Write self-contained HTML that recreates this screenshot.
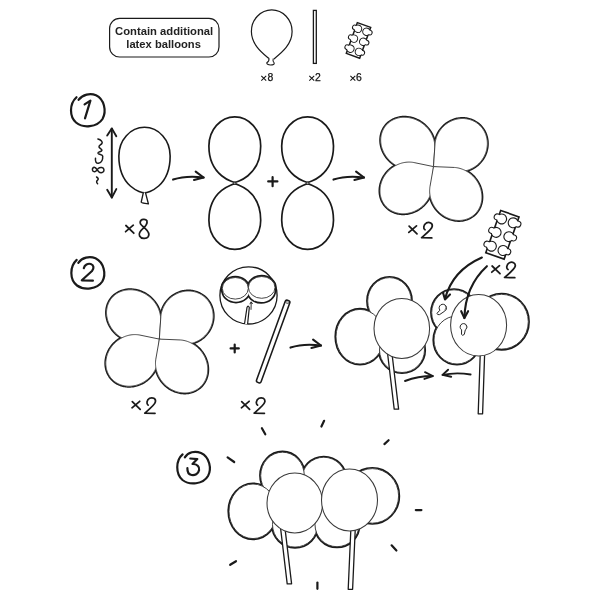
<!DOCTYPE html><html><head><meta charset="utf-8"><style>html,body{margin:0;padding:0;background:#fff;}svg{display:block;} text{will-change:transform;}</style></head><body><svg width="600" height="600" viewBox="0 0 600 600">
<rect width="600" height="600" fill="#fff"/>
<rect x="109.6" y="18.4" width="109.4" height="38.6" rx="10" ry="10" fill="#fff" stroke="#1a1a1a" stroke-width="1.2"/>
<text x="115.0" y="35.1" textLength="98.2" lengthAdjust="spacingAndGlyphs" font-family="Liberation Sans" font-weight="bold" font-size="10.6" fill="#222">Contain additional</text>
<text x="126.3" y="47.5" textLength="74.6" lengthAdjust="spacingAndGlyphs" font-family="Liberation Sans" font-weight="bold" font-size="10.6" fill="#222">latex balloons</text>
<path d="M269.4,59 C263,53.5 251.4,45 251.4,31.5 A20.35,21.6 0 0 1 292.1,31.5 C292.1,45 280.5,53.5 273.8,59" fill="#fff" stroke="#1a1a1a" stroke-width="1.2"/>
<path d="M268.9,58.6 Q269.5,61 266.8,62.8 Q266.6,64.8 270.6,65 Q274.5,64.8 274.2,63 Q272.4,61 273.2,58.6" fill="#fff" stroke="#1a1a1a" stroke-width="1.1"/>
<rect x="313.4" y="10.4" width="2.9" height="53" fill="#fff" stroke="#1a1a1a" stroke-width="1.3"/>
<g transform="translate(358.5,40.4) rotate(19.7) scale(0.73)"><rect x="-9.7" y="-22.4" width="19.4" height="44.8" fill="#fff" stroke="#1a1a1a" stroke-width="2.05"/><g fill="#fff" stroke="#1a1a1a" stroke-width="2.74"><circle cx="-6" cy="-14.7" r="4.4"/><circle cx="-10.8" cy="-15.1" r="2.5"/><circle cx="6.2" cy="-14.9" r="4.4"/><circle cx="11" cy="-15.3" r="2.5"/><circle cx="-6.7" cy="-0.2" r="4.4"/><circle cx="-11.5" cy="-0.6" r="2.5"/><circle cx="6.7" cy="-0.4" r="4.4"/><circle cx="11.5" cy="-0.8" r="2.5"/><circle cx="-6.6" cy="14.4" r="4.4"/><circle cx="-11.4" cy="14" r="2.5"/><circle cx="5.8" cy="14.6" r="4.4"/><circle cx="10.6" cy="14.2" r="2.5"/></g><g fill="#fff"><circle cx="-6" cy="-14.7" r="4.4"/><circle cx="-10.8" cy="-15.1" r="2.5"/><circle cx="6.2" cy="-14.9" r="4.4"/><circle cx="11" cy="-15.3" r="2.5"/><circle cx="-6.7" cy="-0.2" r="4.4"/><circle cx="-11.5" cy="-0.6" r="2.5"/><circle cx="6.7" cy="-0.4" r="4.4"/><circle cx="11.5" cy="-0.8" r="2.5"/><circle cx="-6.6" cy="14.4" r="4.4"/><circle cx="-11.4" cy="14" r="2.5"/><circle cx="5.8" cy="14.6" r="4.4"/><circle cx="10.6" cy="14.2" r="2.5"/></g></g>
<path d="M261.3,75.9 L266.2,80.6 M266.2,75.9 L261.3,80.6" stroke="#111" stroke-width="1.05" fill="none"/><text x="267.6" y="80.9" font-family="Liberation Sans" font-size="10.4" fill="#111" stroke="#111" stroke-width="0.25">8</text>
<path d="M309.3,75.9 L314.2,80.6 M314.2,75.9 L309.3,80.6" stroke="#111" stroke-width="1.05" fill="none"/><text x="315" y="80.9" font-family="Liberation Sans" font-size="10.4" fill="#111" stroke="#111" stroke-width="0.25">2</text>
<path d="M350.4,75.9 L355.3,80.6 M355.3,75.9 L350.4,80.6" stroke="#111" stroke-width="1.05" fill="none"/><text x="356.1" y="80.9" font-family="Liberation Sans" font-size="10.4" fill="#111" stroke="#111" stroke-width="0.25">6</text>
<g fill="none" stroke="#1a1a1a" stroke-width="2.2" stroke-linecap="round" stroke-linejoin="round">
<path d="M76.5,97.2 C69,104 69.5,117 76,122.5 C83,128.5 97,127.5 102.5,119 C107,111 104,99 96,95.3 C90,92.8 83,94.5 78.6,99.8"/>
<path d="M84.6,104.4 L90.4,100.6 L85,118.4"/>
<path d="M76.7,259.9 C69.5,266.5 69.5,280 77,285.5 C84,290.5 97,289.5 102.3,281.5 C106.5,274 104,262.5 95.5,258.3 C89.5,255.8 82,257.5 78.3,262.8"/>
<path d="M83.8,268.2 C84.5,264.5 88,263.2 90.8,264 C94,265 94.2,268.5 92,271 L81.8,280.3 L92.9,280.6"/>
<path d="M182.6,454.4 C175.5,460.5 175.5,474 182.5,480 C189.5,485.5 203,484.5 208,476 C212,468.5 209.5,457 201,453 C195,450.5 188,452 184.8,457.4"/>
<path d="M190.3,458.5 L197.3,459.1 L192.5,464 C197,463.8 199.8,467 199.1,470 C198.4,474 194.6,475.6 191.6,475 C188.5,474.4 187.3,471 187.4,468.2"/>
</g>
<g fill="none" stroke="#1a1a1a" stroke-width="1.9" stroke-linecap="round" stroke-linejoin="round">
<path d="M111.8,128.6 L111.8,197.4"/><path d="M107.2,135.6 L111.8,128.4 L116.3,136.2"/><path d="M107.2,189.8 L111.8,197.6 L116.3,189.1"/>
</g>
<g fill="none" stroke="#1a1a1a" stroke-width="1.5" stroke-linecap="round" stroke-linejoin="round">
<g transform="translate(103,184) rotate(-90)"><path d="M0.3,-5.4 C1.5,-6.8 2.8,-6.6 3.8,-5.4 C4.8,-4.2 6,-4.8 7,-6.4"/><path d="M16.5,-9.5 C15.5,-11.2 12.3,-11 12.2,-8.6 C12.1,-6.8 14.3,-6.2 15.5,-4.8 C17.3,-2.8 16.8,0.9 14,1 C11.2,1.1 10.6,-2.4 12.3,-4.3 C13.5,-5.6 16.6,-6.8 16.8,-8.8"/></g>
<path d="M97.9,139 C101,139.8 103,141.8 101.9,143.5 C101,145 98.5,145.5 99,147 C99.5,148.5 102.5,149 101.9,150.5 C101.3,152 97.5,151.5 98,153.3 C98.5,154.8 102.6,154.2 102.7,156 C102.9,159 101.8,162.8 98.4,163.3 C96.3,163.5 95,161.6 95.5,158.2"/>
</g>
<path d="M118.85,156 A25.65,28.7 0 0 1 170.15,156 C170.15,187 148,192.8 144.5,192.8 C141,192.8 118.85,187 118.85,156Z" fill="#fff" stroke="#1a1a1a" stroke-width="1.6"/>
<path d="M143.4,192.4 L141.2,202.2 Q141.4,203 145,203.4 L148.4,203.8 L145.4,192.4" fill="#fff" stroke="#1a1a1a" stroke-width="1.35" stroke-linejoin="round"/>
<g transform="translate(173.1,179.6)" fill="none" stroke="#1a1a1a" stroke-width="2.1" stroke-linecap="round" stroke-linejoin="round"><path d="M0,0 Q13,-4.4 30.5,-2.1"/><path d="M22.6,-7.9 L30.5,-2.1 L20.9,0.4"/></g>
<g transform="translate(333.5,179.6)" fill="none" stroke="#1a1a1a" stroke-width="2.1" stroke-linecap="round" stroke-linejoin="round"><path d="M0,0 Q13,-4.4 30.5,-2.1"/><path d="M22.6,-7.9 L30.5,-2.1 L20.9,0.4"/></g>
<path d="M208.9,146 A25.9,29.2 0 0 1 260.7,146 C260.7,176.9 235.25,182.3 234.8,182.3 C234.35,182.3 208.9,176.9 208.9,146Z" fill="#fff" stroke="#1a1a1a" stroke-width="1.7"/>
<path d="M208.9,220.2 A25.9,-29.2 0 0 0 260.7,220.2 C260.7,189.3 235.25,183.9 234.8,183.9 C234.35,183.9 208.9,189.3 208.9,220.2Z" fill="#fff" stroke="#1a1a1a" stroke-width="1.7"/>
<ellipse cx="234.8" cy="183.1" rx="1.6" ry="0.9" fill="#fff" stroke="#1a1a1a" stroke-width="0.9"/>
<path d="M281.7,146 A25.9,29.2 0 0 1 333.5,146 C333.5,176.9 308.05,182.3 307.6,182.3 C307.15,182.3 281.7,176.9 281.7,146Z" fill="#fff" stroke="#1a1a1a" stroke-width="1.7"/>
<path d="M281.7,220.2 A25.9,-29.2 0 0 0 333.5,220.2 C333.5,189.3 308.05,183.9 307.6,183.9 C307.15,183.9 281.7,189.3 281.7,220.2Z" fill="#fff" stroke="#1a1a1a" stroke-width="1.7"/>
<ellipse cx="307.6" cy="183.1" rx="1.6" ry="0.9" fill="#fff" stroke="#1a1a1a" stroke-width="0.9"/>
<path d="M272.6,177.2 V186.2 M268.2,181.4 H277.4" stroke="#1a1a1a" stroke-width="2.2" stroke-linecap="round" fill="none"/>
<path d="M433.5,166.6 L415.11,169.39 L414.19,169.51 L413.27,169.6 L412.34,169.66 L411.41,169.68 L410.47,169.67 L409.53,169.63 L408.58,169.56 L407.64,169.46 L406.69,169.32 L405.75,169.16 L404.81,168.96 L403.87,168.73 L402.94,168.47 L402.01,168.18 L401.09,167.86 L400.18,167.51 L399.28,167.13 L398.38,166.72 L397.5,166.29 L396.63,165.82 L395.78,165.33 L394.94,164.81 L394.11,164.27 L393.31,163.7 L392.51,163.1 L391.74,162.49 L390.99,161.84 L390.26,161.18 L389.55,160.49 L388.86,159.79 L388.19,159.06 L387.55,158.32 L386.93,157.55 L386.34,156.77 L385.78,155.98 L385.24,155.17 L384.73,154.34 L384.24,153.5 L383.79,152.65 L383.36,151.79 L382.97,150.91 L382.6,150.03 L382.27,149.14 L381.96,148.25 L381.69,147.34 L381.45,146.44 L381.24,145.53 L381.06,144.61 L380.92,143.7 L380.81,142.78 L380.73,141.87 L380.68,140.95 L380.67,140.05 L380.69,139.14 L380.74,138.24 L380.83,137.35 L380.95,136.46 L381.1,135.58 L381.29,134.72 L381.5,133.86 L381.75,133.01 L382.03,132.18 L382.34,131.36 L382.69,130.56 L383.06,129.77 L383.46,129 L383.89,128.24 L384.36,127.51 L384.85,126.79 L385.36,126.09 L385.91,125.42 L386.48,124.77 L387.08,124.14 L387.7,123.53 L388.35,122.95 L389.02,122.39 L389.72,121.86 L390.43,121.35 L391.17,120.87 L391.93,120.42 L392.7,120 L393.5,119.61 L394.31,119.24 L395.14,118.91 L395.98,118.6 L396.84,118.32 L397.71,118.08 L398.6,117.87 L399.49,117.68 L400.4,117.53 L401.31,117.41 L402.23,117.32 L403.16,117.27 L404.1,117.24 L405.03,117.25 L405.98,117.29 L406.92,117.36 L407.87,117.47 L408.81,117.6 L409.75,117.77 L410.7,117.97 L411.63,118.19 L412.57,118.45 L413.49,118.74 L414.41,119.07 L415.33,119.42 L416.23,119.79 L417.12,120.2 L418,120.64 L418.87,121.1 L419.73,121.6 L420.57,122.11 L421.39,122.66 L422.2,123.23 L422.99,123.82 L423.76,124.44 L424.52,125.08 L425.25,125.74 L425.96,126.43 L426.65,127.14 L427.31,127.86 L427.95,128.61 L428.57,129.37 L429.16,130.15 L429.73,130.95 L430.27,131.76 L430.78,132.58 L431.26,133.42 L431.72,134.27 L432.14,135.14 L432.54,136.01 L432.9,136.89 L433.24,137.78 L433.54,138.68 L433.82,139.58 L434.06,140.49 L434.27,141.4 L434.44,142.31 L434.59,143.23 L434.7,144.14 L434.78,145.06 L434.82,145.97 L434.83,146.88 L434.81,147.78Z" fill="#fff" stroke="#1a1a1a" stroke-width="2.9"/>
<path d="M433.5,166.6 L435,143.92 L435.1,142.99 L435.24,142.07 L435.4,141.16 L435.6,140.24 L435.83,139.34 L436.08,138.44 L436.37,137.54 L436.69,136.66 L437.04,135.79 L437.42,134.93 L437.83,134.08 L438.26,133.24 L438.73,132.42 L439.22,131.61 L439.73,130.82 L440.28,130.05 L440.85,129.3 L441.44,128.56 L442.06,127.85 L442.7,127.15 L443.36,126.48 L444.05,125.83 L444.75,125.2 L445.48,124.6 L446.22,124.02 L446.99,123.47 L447.77,122.94 L448.56,122.44 L449.37,121.97 L450.2,121.53 L451.04,121.11 L451.89,120.73 L452.75,120.37 L453.63,120.04 L454.51,119.75 L455.4,119.48 L456.3,119.25 L457.2,119.04 L458.11,118.87 L459.02,118.73 L459.93,118.62 L460.85,118.55 L461.76,118.51 L462.68,118.5 L463.59,118.52 L464.5,118.57 L465.41,118.66 L466.31,118.77 L467.2,118.92 L468.09,119.11 L468.97,119.32 L469.84,119.56 L470.7,119.84 L471.54,120.14 L472.38,120.48 L473.2,120.85 L474,121.24 L474.79,121.67 L475.57,122.12 L476.32,122.6 L477.06,123.11 L477.78,123.64 L478.48,124.2 L479.15,124.79 L479.81,125.4 L480.44,126.04 L481.05,126.69 L481.63,127.37 L482.19,128.07 L482.72,128.8 L483.23,129.54 L483.71,130.3 L484.16,131.08 L484.59,131.87 L484.98,132.68 L485.35,133.51 L485.69,134.35 L485.99,135.2 L486.27,136.07 L486.52,136.95 L486.73,137.83 L486.92,138.73 L487.07,139.63 L487.19,140.54 L487.28,141.45 L487.34,142.37 L487.36,143.29 L487.36,144.22 L487.32,145.14 L487.25,146.07 L487.15,146.99 L487.01,147.91 L486.85,148.83 L486.65,149.74 L486.42,150.65 L486.16,151.55 L485.87,152.44 L485.56,153.32 L485.21,154.19 L484.83,155.06 L484.42,155.9 L483.99,156.74 L483.52,157.56 L483.03,158.37 L482.51,159.16 L481.97,159.93 L481.4,160.69 L480.81,161.42 L480.19,162.14 L479.55,162.83 L478.89,163.5 L478.2,164.15 L477.5,164.78 L476.77,165.38 L476.03,165.96 L475.26,166.51 L474.48,167.04 L473.69,167.54 L472.87,168.01 L472.05,168.46 L471.21,168.87 L470.36,169.26 L469.49,169.61 L468.62,169.94 L467.74,170.24 L466.85,170.5 L465.95,170.74 L465.05,170.94 L464.14,171.11 L463.23,171.25 L462.32,171.36 L461.4,171.43 L460.48,171.48 L459.57,171.49 L458.66,171.47 L457.75,171.41 L456.84,171.33 L455.94,171.21 L455.04,171.06Z" fill="#fff" stroke="#1a1a1a" stroke-width="2.9"/>
<path d="M433.5,166.6 L432.29,186.72 L432.21,187.62 L432.11,188.52 L431.97,189.42 L431.8,190.32 L431.6,191.22 L431.36,192.11 L431.1,193 L430.81,193.88 L430.48,194.75 L430.13,195.62 L429.74,196.47 L429.33,197.32 L428.89,198.15 L428.43,198.97 L427.93,199.78 L427.41,200.58 L426.86,201.35 L426.29,202.12 L425.69,202.86 L425.07,203.59 L424.43,204.29 L423.76,204.98 L423.08,205.65 L422.37,206.29 L421.64,206.92 L420.89,207.51 L420.13,208.09 L419.35,208.64 L418.55,209.17 L417.73,209.67 L416.91,210.14 L416.07,210.59 L415.22,211.01 L414.35,211.4 L413.48,211.76 L412.6,212.09 L411.71,212.39 L410.81,212.67 L409.91,212.91 L409,213.12 L408.09,213.31 L407.18,213.46 L406.26,213.58 L405.35,213.67 L404.43,213.72 L403.52,213.75 L402.61,213.75 L401.71,213.71 L400.81,213.64 L399.92,213.54 L399.04,213.41 L398.16,213.25 L397.29,213.06 L396.44,212.83 L395.6,212.58 L394.77,212.29 L393.95,211.98 L393.15,211.64 L392.36,211.27 L391.59,210.87 L390.84,210.44 L390.11,209.98 L389.39,209.5 L388.7,208.99 L388.03,208.46 L387.38,207.9 L386.75,207.31 L386.15,206.71 L385.57,206.08 L385.02,205.42 L384.49,204.75 L383.99,204.06 L383.52,203.34 L383.07,202.61 L382.65,201.86 L382.26,201.09 L381.9,200.31 L381.57,199.51 L381.27,198.7 L380.99,197.87 L380.75,197.03 L380.54,196.18 L380.37,195.32 L380.22,194.46 L380.1,193.58 L380.02,192.7 L379.97,191.81 L379.95,190.91 L379.96,190.02 L380,189.12 L380.08,188.22 L380.19,187.31 L380.33,186.41 L380.5,185.51 L380.7,184.62 L380.93,183.72 L381.2,182.84 L381.49,181.96 L381.81,181.08 L382.17,180.22 L382.55,179.36 L382.96,178.52 L383.4,177.68 L383.87,176.86 L384.36,176.05 L384.89,175.26 L385.43,174.48 L386,173.72 L386.6,172.97 L387.22,172.25 L387.87,171.54 L388.53,170.85 L389.22,170.19 L389.93,169.54 L390.66,168.92 L391.4,168.32 L392.17,167.74 L392.95,167.19 L393.75,166.67 L394.56,166.17 L395.39,165.69 L396.23,165.25 L397.08,164.83 L397.94,164.44 L398.82,164.08 L399.7,163.74 L400.59,163.44 L401.49,163.17 L402.39,162.92 L403.3,162.71 L404.21,162.53 L405.12,162.38 L406.03,162.26 L406.95,162.17 L407.86,162.11 L408.77,162.08 L409.68,162.09 L410.58,162.13 L411.48,162.19 L412.37,162.29 L413.26,162.42 L414.13,162.59Z" fill="#fff" stroke="#1a1a1a" stroke-width="2.9"/>
<path d="M433.5,166.6 L454.51,167.46 L455.42,167.54 L456.34,167.65 L457.25,167.8 L458.16,167.97 L459.07,168.18 L459.97,168.42 L460.87,168.69 L461.76,168.99 L462.64,169.32 L463.52,169.68 L464.39,170.07 L465.24,170.48 L466.09,170.93 L466.92,171.41 L467.74,171.91 L468.54,172.44 L469.33,173 L470.11,173.58 L470.86,174.18 L471.6,174.81 L472.31,175.47 L473.01,176.14 L473.69,176.84 L474.34,177.56 L474.97,178.3 L475.58,179.06 L476.17,179.83 L476.72,180.63 L477.26,181.43 L477.77,182.26 L478.25,183.1 L478.7,183.95 L479.13,184.81 L479.52,185.69 L479.89,186.57 L480.23,187.47 L480.54,188.37 L480.82,189.28 L481.07,190.19 L481.28,191.11 L481.47,192.03 L481.63,192.96 L481.75,193.88 L481.84,194.81 L481.9,195.74 L481.93,196.66 L481.93,197.58 L481.89,198.49 L481.82,199.4 L481.73,200.3 L481.6,201.2 L481.43,202.09 L481.24,202.96 L481.02,203.83 L480.76,204.68 L480.48,205.52 L480.16,206.35 L479.82,207.16 L479.44,207.95 L479.04,208.73 L478.61,209.49 L478.15,210.23 L477.66,210.95 L477.15,211.65 L476.61,212.33 L476.05,212.99 L475.46,213.62 L474.84,214.23 L474.21,214.81 L473.55,215.37 L472.87,215.9 L472.17,216.41 L471.44,216.89 L470.7,217.34 L469.95,217.76 L469.17,218.15 L468.38,218.52 L467.57,218.85 L466.75,219.15 L465.91,219.42 L465.07,219.67 L464.21,219.88 L463.34,220.05 L462.46,220.2 L461.57,220.32 L460.68,220.4 L459.78,220.45 L458.88,220.47 L457.97,220.45 L457.06,220.41 L456.15,220.33 L455.23,220.22 L454.32,220.07 L453.41,219.9 L452.5,219.69 L451.6,219.45 L450.7,219.18 L449.81,218.88 L448.93,218.55 L448.05,218.19 L447.18,217.8 L446.33,217.38 L445.48,216.94 L444.65,216.46 L443.83,215.96 L443.03,215.43 L442.24,214.87 L441.46,214.29 L440.71,213.69 L439.97,213.05 L439.26,212.4 L438.56,211.73 L437.88,211.03 L437.23,210.31 L436.6,209.57 L435.99,208.81 L435.4,208.04 L434.85,207.24 L434.31,206.43 L433.8,205.61 L433.32,204.77 L432.87,203.92 L432.44,203.06 L432.05,202.18 L431.68,201.3 L431.34,200.4 L431.03,199.5 L430.75,198.59 L430.5,197.68 L430.29,196.76 L430.1,195.84 L429.94,194.91 L429.82,193.98 L429.73,193.06 L429.67,192.13 L429.64,191.21 L429.64,190.29 L429.68,189.38 L429.75,188.47 L429.84,187.56 L429.97,186.67Z" fill="#fff" stroke="#1a1a1a" stroke-width="2.9"/>
<path d="M433.5,166.6 L415.11,169.39 L414.19,169.51 L413.27,169.6 L412.34,169.66 L411.41,169.68 L410.47,169.67 L409.53,169.63 L408.58,169.56 L407.64,169.46 L406.69,169.32 L405.75,169.16 L404.81,168.96 L403.87,168.73 L402.94,168.47 L402.01,168.18 L401.09,167.86 L400.18,167.51 L399.28,167.13 L398.38,166.72 L397.5,166.29 L396.63,165.82 L395.78,165.33 L394.94,164.81 L394.11,164.27 L393.31,163.7 L392.51,163.1 L391.74,162.49 L390.99,161.84 L390.26,161.18 L389.55,160.49 L388.86,159.79 L388.19,159.06 L387.55,158.32 L386.93,157.55 L386.34,156.77 L385.78,155.98 L385.24,155.17 L384.73,154.34 L384.24,153.5 L383.79,152.65 L383.36,151.79 L382.97,150.91 L382.6,150.03 L382.27,149.14 L381.96,148.25 L381.69,147.34 L381.45,146.44 L381.24,145.53 L381.06,144.61 L380.92,143.7 L380.81,142.78 L380.73,141.87 L380.68,140.95 L380.67,140.05 L380.69,139.14 L380.74,138.24 L380.83,137.35 L380.95,136.46 L381.1,135.58 L381.29,134.72 L381.5,133.86 L381.75,133.01 L382.03,132.18 L382.34,131.36 L382.69,130.56 L383.06,129.77 L383.46,129 L383.89,128.24 L384.36,127.51 L384.85,126.79 L385.36,126.09 L385.91,125.42 L386.48,124.77 L387.08,124.14 L387.7,123.53 L388.35,122.95 L389.02,122.39 L389.72,121.86 L390.43,121.35 L391.17,120.87 L391.93,120.42 L392.7,120 L393.5,119.61 L394.31,119.24 L395.14,118.91 L395.98,118.6 L396.84,118.32 L397.71,118.08 L398.6,117.87 L399.49,117.68 L400.4,117.53 L401.31,117.41 L402.23,117.32 L403.16,117.27 L404.1,117.24 L405.03,117.25 L405.98,117.29 L406.92,117.36 L407.87,117.47 L408.81,117.6 L409.75,117.77 L410.7,117.97 L411.63,118.19 L412.57,118.45 L413.49,118.74 L414.41,119.07 L415.33,119.42 L416.23,119.79 L417.12,120.2 L418,120.64 L418.87,121.1 L419.73,121.6 L420.57,122.11 L421.39,122.66 L422.2,123.23 L422.99,123.82 L423.76,124.44 L424.52,125.08 L425.25,125.74 L425.96,126.43 L426.65,127.14 L427.31,127.86 L427.95,128.61 L428.57,129.37 L429.16,130.15 L429.73,130.95 L430.27,131.76 L430.78,132.58 L431.26,133.42 L431.72,134.27 L432.14,135.14 L432.54,136.01 L432.9,136.89 L433.24,137.78 L433.54,138.68 L433.82,139.58 L434.06,140.49 L434.27,141.4 L434.44,142.31 L434.59,143.23 L434.7,144.14 L434.78,145.06 L434.82,145.97 L434.83,146.88 L434.81,147.78Z" fill="#fff"/>
<path d="M433.5,166.6 L435,143.92 L435.1,142.99 L435.24,142.07 L435.4,141.16 L435.6,140.24 L435.83,139.34 L436.08,138.44 L436.37,137.54 L436.69,136.66 L437.04,135.79 L437.42,134.93 L437.83,134.08 L438.26,133.24 L438.73,132.42 L439.22,131.61 L439.73,130.82 L440.28,130.05 L440.85,129.3 L441.44,128.56 L442.06,127.85 L442.7,127.15 L443.36,126.48 L444.05,125.83 L444.75,125.2 L445.48,124.6 L446.22,124.02 L446.99,123.47 L447.77,122.94 L448.56,122.44 L449.37,121.97 L450.2,121.53 L451.04,121.11 L451.89,120.73 L452.75,120.37 L453.63,120.04 L454.51,119.75 L455.4,119.48 L456.3,119.25 L457.2,119.04 L458.11,118.87 L459.02,118.73 L459.93,118.62 L460.85,118.55 L461.76,118.51 L462.68,118.5 L463.59,118.52 L464.5,118.57 L465.41,118.66 L466.31,118.77 L467.2,118.92 L468.09,119.11 L468.97,119.32 L469.84,119.56 L470.7,119.84 L471.54,120.14 L472.38,120.48 L473.2,120.85 L474,121.24 L474.79,121.67 L475.57,122.12 L476.32,122.6 L477.06,123.11 L477.78,123.64 L478.48,124.2 L479.15,124.79 L479.81,125.4 L480.44,126.04 L481.05,126.69 L481.63,127.37 L482.19,128.07 L482.72,128.8 L483.23,129.54 L483.71,130.3 L484.16,131.08 L484.59,131.87 L484.98,132.68 L485.35,133.51 L485.69,134.35 L485.99,135.2 L486.27,136.07 L486.52,136.95 L486.73,137.83 L486.92,138.73 L487.07,139.63 L487.19,140.54 L487.28,141.45 L487.34,142.37 L487.36,143.29 L487.36,144.22 L487.32,145.14 L487.25,146.07 L487.15,146.99 L487.01,147.91 L486.85,148.83 L486.65,149.74 L486.42,150.65 L486.16,151.55 L485.87,152.44 L485.56,153.32 L485.21,154.19 L484.83,155.06 L484.42,155.9 L483.99,156.74 L483.52,157.56 L483.03,158.37 L482.51,159.16 L481.97,159.93 L481.4,160.69 L480.81,161.42 L480.19,162.14 L479.55,162.83 L478.89,163.5 L478.2,164.15 L477.5,164.78 L476.77,165.38 L476.03,165.96 L475.26,166.51 L474.48,167.04 L473.69,167.54 L472.87,168.01 L472.05,168.46 L471.21,168.87 L470.36,169.26 L469.49,169.61 L468.62,169.94 L467.74,170.24 L466.85,170.5 L465.95,170.74 L465.05,170.94 L464.14,171.11 L463.23,171.25 L462.32,171.36 L461.4,171.43 L460.48,171.48 L459.57,171.49 L458.66,171.47 L457.75,171.41 L456.84,171.33 L455.94,171.21 L455.04,171.06Z" fill="#fff"/>
<path d="M433.5,166.6 L432.29,186.72 L432.21,187.62 L432.11,188.52 L431.97,189.42 L431.8,190.32 L431.6,191.22 L431.36,192.11 L431.1,193 L430.81,193.88 L430.48,194.75 L430.13,195.62 L429.74,196.47 L429.33,197.32 L428.89,198.15 L428.43,198.97 L427.93,199.78 L427.41,200.58 L426.86,201.35 L426.29,202.12 L425.69,202.86 L425.07,203.59 L424.43,204.29 L423.76,204.98 L423.08,205.65 L422.37,206.29 L421.64,206.92 L420.89,207.51 L420.13,208.09 L419.35,208.64 L418.55,209.17 L417.73,209.67 L416.91,210.14 L416.07,210.59 L415.22,211.01 L414.35,211.4 L413.48,211.76 L412.6,212.09 L411.71,212.39 L410.81,212.67 L409.91,212.91 L409,213.12 L408.09,213.31 L407.18,213.46 L406.26,213.58 L405.35,213.67 L404.43,213.72 L403.52,213.75 L402.61,213.75 L401.71,213.71 L400.81,213.64 L399.92,213.54 L399.04,213.41 L398.16,213.25 L397.29,213.06 L396.44,212.83 L395.6,212.58 L394.77,212.29 L393.95,211.98 L393.15,211.64 L392.36,211.27 L391.59,210.87 L390.84,210.44 L390.11,209.98 L389.39,209.5 L388.7,208.99 L388.03,208.46 L387.38,207.9 L386.75,207.31 L386.15,206.71 L385.57,206.08 L385.02,205.42 L384.49,204.75 L383.99,204.06 L383.52,203.34 L383.07,202.61 L382.65,201.86 L382.26,201.09 L381.9,200.31 L381.57,199.51 L381.27,198.7 L380.99,197.87 L380.75,197.03 L380.54,196.18 L380.37,195.32 L380.22,194.46 L380.1,193.58 L380.02,192.7 L379.97,191.81 L379.95,190.91 L379.96,190.02 L380,189.12 L380.08,188.22 L380.19,187.31 L380.33,186.41 L380.5,185.51 L380.7,184.62 L380.93,183.72 L381.2,182.84 L381.49,181.96 L381.81,181.08 L382.17,180.22 L382.55,179.36 L382.96,178.52 L383.4,177.68 L383.87,176.86 L384.36,176.05 L384.89,175.26 L385.43,174.48 L386,173.72 L386.6,172.97 L387.22,172.25 L387.87,171.54 L388.53,170.85 L389.22,170.19 L389.93,169.54 L390.66,168.92 L391.4,168.32 L392.17,167.74 L392.95,167.19 L393.75,166.67 L394.56,166.17 L395.39,165.69 L396.23,165.25 L397.08,164.83 L397.94,164.44 L398.82,164.08 L399.7,163.74 L400.59,163.44 L401.49,163.17 L402.39,162.92 L403.3,162.71 L404.21,162.53 L405.12,162.38 L406.03,162.26 L406.95,162.17 L407.86,162.11 L408.77,162.08 L409.68,162.09 L410.58,162.13 L411.48,162.19 L412.37,162.29 L413.26,162.42 L414.13,162.59Z" fill="#fff"/>
<path d="M433.5,166.6 L454.51,167.46 L455.42,167.54 L456.34,167.65 L457.25,167.8 L458.16,167.97 L459.07,168.18 L459.97,168.42 L460.87,168.69 L461.76,168.99 L462.64,169.32 L463.52,169.68 L464.39,170.07 L465.24,170.48 L466.09,170.93 L466.92,171.41 L467.74,171.91 L468.54,172.44 L469.33,173 L470.11,173.58 L470.86,174.18 L471.6,174.81 L472.31,175.47 L473.01,176.14 L473.69,176.84 L474.34,177.56 L474.97,178.3 L475.58,179.06 L476.17,179.83 L476.72,180.63 L477.26,181.43 L477.77,182.26 L478.25,183.1 L478.7,183.95 L479.13,184.81 L479.52,185.69 L479.89,186.57 L480.23,187.47 L480.54,188.37 L480.82,189.28 L481.07,190.19 L481.28,191.11 L481.47,192.03 L481.63,192.96 L481.75,193.88 L481.84,194.81 L481.9,195.74 L481.93,196.66 L481.93,197.58 L481.89,198.49 L481.82,199.4 L481.73,200.3 L481.6,201.2 L481.43,202.09 L481.24,202.96 L481.02,203.83 L480.76,204.68 L480.48,205.52 L480.16,206.35 L479.82,207.16 L479.44,207.95 L479.04,208.73 L478.61,209.49 L478.15,210.23 L477.66,210.95 L477.15,211.65 L476.61,212.33 L476.05,212.99 L475.46,213.62 L474.84,214.23 L474.21,214.81 L473.55,215.37 L472.87,215.9 L472.17,216.41 L471.44,216.89 L470.7,217.34 L469.95,217.76 L469.17,218.15 L468.38,218.52 L467.57,218.85 L466.75,219.15 L465.91,219.42 L465.07,219.67 L464.21,219.88 L463.34,220.05 L462.46,220.2 L461.57,220.32 L460.68,220.4 L459.78,220.45 L458.88,220.47 L457.97,220.45 L457.06,220.41 L456.15,220.33 L455.23,220.22 L454.32,220.07 L453.41,219.9 L452.5,219.69 L451.6,219.45 L450.7,219.18 L449.81,218.88 L448.93,218.55 L448.05,218.19 L447.18,217.8 L446.33,217.38 L445.48,216.94 L444.65,216.46 L443.83,215.96 L443.03,215.43 L442.24,214.87 L441.46,214.29 L440.71,213.69 L439.97,213.05 L439.26,212.4 L438.56,211.73 L437.88,211.03 L437.23,210.31 L436.6,209.57 L435.99,208.81 L435.4,208.04 L434.85,207.24 L434.31,206.43 L433.8,205.61 L433.32,204.77 L432.87,203.92 L432.44,203.06 L432.05,202.18 L431.68,201.3 L431.34,200.4 L431.03,199.5 L430.75,198.59 L430.5,197.68 L430.29,196.76 L430.1,195.84 L429.94,194.91 L429.82,193.98 L429.73,193.06 L429.67,192.13 L429.64,191.21 L429.64,190.29 L429.68,189.38 L429.75,188.47 L429.84,187.56 L429.97,186.67Z" fill="#fff"/>
<path d="M433.5,166.6 L415.11,169.39 L414.19,169.51 L413.27,169.6 L412.34,169.66 L411.41,169.68 L410.47,169.67 L409.53,169.63 L408.58,169.56 L407.64,169.46 L406.69,169.32 L405.75,169.16 L404.81,168.96 L403.87,168.73 L402.94,168.47 L402.01,168.18 L401.09,167.86 L400.18,167.51 L399.28,167.13 L398.38,166.72 L397.5,166.29 L396.63,165.82 L395.78,165.33 L394.94,164.81 L394.11,164.27 L393.31,163.7 L392.51,163.1 L391.74,162.49 L390.99,161.84 L390.26,161.18 L389.55,160.49 L388.86,159.79 L388.19,159.06 L387.55,158.32 L386.93,157.55 L386.34,156.77 L385.78,155.98 L385.24,155.17 L384.73,154.34 L384.24,153.5 L383.79,152.65 L383.36,151.79 L382.97,150.91 L382.6,150.03 L382.27,149.14 L381.96,148.25 L381.69,147.34 L381.45,146.44 L381.24,145.53 L381.06,144.61 L380.92,143.7 L380.81,142.78 L380.73,141.87 L380.68,140.95 L380.67,140.05 L380.69,139.14 L380.74,138.24 L380.83,137.35 L380.95,136.46 L381.1,135.58 L381.29,134.72 L381.5,133.86 L381.75,133.01 L382.03,132.18 L382.34,131.36 L382.69,130.56 L383.06,129.77 L383.46,129 L383.89,128.24 L384.36,127.51 L384.85,126.79 L385.36,126.09 L385.91,125.42 L386.48,124.77 L387.08,124.14 L387.7,123.53 L388.35,122.95 L389.02,122.39 L389.72,121.86 L390.43,121.35 L391.17,120.87 L391.93,120.42 L392.7,120 L393.5,119.61 L394.31,119.24 L395.14,118.91 L395.98,118.6 L396.84,118.32 L397.71,118.08 L398.6,117.87 L399.49,117.68 L400.4,117.53 L401.31,117.41 L402.23,117.32 L403.16,117.27 L404.1,117.24 L405.03,117.25 L405.98,117.29 L406.92,117.36 L407.87,117.47 L408.81,117.6 L409.75,117.77 L410.7,117.97 L411.63,118.19 L412.57,118.45 L413.49,118.74 L414.41,119.07 L415.33,119.42 L416.23,119.79 L417.12,120.2 L418,120.64 L418.87,121.1 L419.73,121.6 L420.57,122.11 L421.39,122.66 L422.2,123.23 L422.99,123.82 L423.76,124.44 L424.52,125.08 L425.25,125.74 L425.96,126.43 L426.65,127.14 L427.31,127.86 L427.95,128.61 L428.57,129.37 L429.16,130.15 L429.73,130.95 L430.27,131.76 L430.78,132.58 L431.26,133.42 L431.72,134.27 L432.14,135.14 L432.54,136.01 L432.9,136.89 L433.24,137.78 L433.54,138.68 L433.82,139.58 L434.06,140.49 L434.27,141.4 L434.44,142.31 L434.59,143.23 L434.7,144.14 L434.78,145.06 L434.82,145.97 L434.83,146.88 L434.81,147.78Z" fill="#fff" stroke="#333" stroke-width="0.9"/>
<path d="M433.5,166.6 L435,143.92 L435.1,142.99 L435.24,142.07 L435.4,141.16 L435.6,140.24 L435.83,139.34 L436.08,138.44 L436.37,137.54 L436.69,136.66 L437.04,135.79 L437.42,134.93 L437.83,134.08 L438.26,133.24 L438.73,132.42 L439.22,131.61 L439.73,130.82 L440.28,130.05 L440.85,129.3 L441.44,128.56 L442.06,127.85 L442.7,127.15 L443.36,126.48 L444.05,125.83 L444.75,125.2 L445.48,124.6 L446.22,124.02 L446.99,123.47 L447.77,122.94 L448.56,122.44 L449.37,121.97 L450.2,121.53 L451.04,121.11 L451.89,120.73 L452.75,120.37 L453.63,120.04 L454.51,119.75 L455.4,119.48 L456.3,119.25 L457.2,119.04 L458.11,118.87 L459.02,118.73 L459.93,118.62 L460.85,118.55 L461.76,118.51 L462.68,118.5 L463.59,118.52 L464.5,118.57 L465.41,118.66 L466.31,118.77 L467.2,118.92 L468.09,119.11 L468.97,119.32 L469.84,119.56 L470.7,119.84 L471.54,120.14 L472.38,120.48 L473.2,120.85 L474,121.24 L474.79,121.67 L475.57,122.12 L476.32,122.6 L477.06,123.11 L477.78,123.64 L478.48,124.2 L479.15,124.79 L479.81,125.4 L480.44,126.04 L481.05,126.69 L481.63,127.37 L482.19,128.07 L482.72,128.8 L483.23,129.54 L483.71,130.3 L484.16,131.08 L484.59,131.87 L484.98,132.68 L485.35,133.51 L485.69,134.35 L485.99,135.2 L486.27,136.07 L486.52,136.95 L486.73,137.83 L486.92,138.73 L487.07,139.63 L487.19,140.54 L487.28,141.45 L487.34,142.37 L487.36,143.29 L487.36,144.22 L487.32,145.14 L487.25,146.07 L487.15,146.99 L487.01,147.91 L486.85,148.83 L486.65,149.74 L486.42,150.65 L486.16,151.55 L485.87,152.44 L485.56,153.32 L485.21,154.19 L484.83,155.06 L484.42,155.9 L483.99,156.74 L483.52,157.56 L483.03,158.37 L482.51,159.16 L481.97,159.93 L481.4,160.69 L480.81,161.42 L480.19,162.14 L479.55,162.83 L478.89,163.5 L478.2,164.15 L477.5,164.78 L476.77,165.38 L476.03,165.96 L475.26,166.51 L474.48,167.04 L473.69,167.54 L472.87,168.01 L472.05,168.46 L471.21,168.87 L470.36,169.26 L469.49,169.61 L468.62,169.94 L467.74,170.24 L466.85,170.5 L465.95,170.74 L465.05,170.94 L464.14,171.11 L463.23,171.25 L462.32,171.36 L461.4,171.43 L460.48,171.48 L459.57,171.49 L458.66,171.47 L457.75,171.41 L456.84,171.33 L455.94,171.21 L455.04,171.06Z" fill="#fff" stroke="#333" stroke-width="0.9"/>
<path d="M433.5,166.6 L432.29,186.72 L432.21,187.62 L432.11,188.52 L431.97,189.42 L431.8,190.32 L431.6,191.22 L431.36,192.11 L431.1,193 L430.81,193.88 L430.48,194.75 L430.13,195.62 L429.74,196.47 L429.33,197.32 L428.89,198.15 L428.43,198.97 L427.93,199.78 L427.41,200.58 L426.86,201.35 L426.29,202.12 L425.69,202.86 L425.07,203.59 L424.43,204.29 L423.76,204.98 L423.08,205.65 L422.37,206.29 L421.64,206.92 L420.89,207.51 L420.13,208.09 L419.35,208.64 L418.55,209.17 L417.73,209.67 L416.91,210.14 L416.07,210.59 L415.22,211.01 L414.35,211.4 L413.48,211.76 L412.6,212.09 L411.71,212.39 L410.81,212.67 L409.91,212.91 L409,213.12 L408.09,213.31 L407.18,213.46 L406.26,213.58 L405.35,213.67 L404.43,213.72 L403.52,213.75 L402.61,213.75 L401.71,213.71 L400.81,213.64 L399.92,213.54 L399.04,213.41 L398.16,213.25 L397.29,213.06 L396.44,212.83 L395.6,212.58 L394.77,212.29 L393.95,211.98 L393.15,211.64 L392.36,211.27 L391.59,210.87 L390.84,210.44 L390.11,209.98 L389.39,209.5 L388.7,208.99 L388.03,208.46 L387.38,207.9 L386.75,207.31 L386.15,206.71 L385.57,206.08 L385.02,205.42 L384.49,204.75 L383.99,204.06 L383.52,203.34 L383.07,202.61 L382.65,201.86 L382.26,201.09 L381.9,200.31 L381.57,199.51 L381.27,198.7 L380.99,197.87 L380.75,197.03 L380.54,196.18 L380.37,195.32 L380.22,194.46 L380.1,193.58 L380.02,192.7 L379.97,191.81 L379.95,190.91 L379.96,190.02 L380,189.12 L380.08,188.22 L380.19,187.31 L380.33,186.41 L380.5,185.51 L380.7,184.62 L380.93,183.72 L381.2,182.84 L381.49,181.96 L381.81,181.08 L382.17,180.22 L382.55,179.36 L382.96,178.52 L383.4,177.68 L383.87,176.86 L384.36,176.05 L384.89,175.26 L385.43,174.48 L386,173.72 L386.6,172.97 L387.22,172.25 L387.87,171.54 L388.53,170.85 L389.22,170.19 L389.93,169.54 L390.66,168.92 L391.4,168.32 L392.17,167.74 L392.95,167.19 L393.75,166.67 L394.56,166.17 L395.39,165.69 L396.23,165.25 L397.08,164.83 L397.94,164.44 L398.82,164.08 L399.7,163.74 L400.59,163.44 L401.49,163.17 L402.39,162.92 L403.3,162.71 L404.21,162.53 L405.12,162.38 L406.03,162.26 L406.95,162.17 L407.86,162.11 L408.77,162.08 L409.68,162.09 L410.58,162.13 L411.48,162.19 L412.37,162.29 L413.26,162.42 L414.13,162.59Z" fill="#fff" stroke="#333" stroke-width="0.9"/>
<path d="M433.5,166.6 L454.51,167.46 L455.42,167.54 L456.34,167.65 L457.25,167.8 L458.16,167.97 L459.07,168.18 L459.97,168.42 L460.87,168.69 L461.76,168.99 L462.64,169.32 L463.52,169.68 L464.39,170.07 L465.24,170.48 L466.09,170.93 L466.92,171.41 L467.74,171.91 L468.54,172.44 L469.33,173 L470.11,173.58 L470.86,174.18 L471.6,174.81 L472.31,175.47 L473.01,176.14 L473.69,176.84 L474.34,177.56 L474.97,178.3 L475.58,179.06 L476.17,179.83 L476.72,180.63 L477.26,181.43 L477.77,182.26 L478.25,183.1 L478.7,183.95 L479.13,184.81 L479.52,185.69 L479.89,186.57 L480.23,187.47 L480.54,188.37 L480.82,189.28 L481.07,190.19 L481.28,191.11 L481.47,192.03 L481.63,192.96 L481.75,193.88 L481.84,194.81 L481.9,195.74 L481.93,196.66 L481.93,197.58 L481.89,198.49 L481.82,199.4 L481.73,200.3 L481.6,201.2 L481.43,202.09 L481.24,202.96 L481.02,203.83 L480.76,204.68 L480.48,205.52 L480.16,206.35 L479.82,207.16 L479.44,207.95 L479.04,208.73 L478.61,209.49 L478.15,210.23 L477.66,210.95 L477.15,211.65 L476.61,212.33 L476.05,212.99 L475.46,213.62 L474.84,214.23 L474.21,214.81 L473.55,215.37 L472.87,215.9 L472.17,216.41 L471.44,216.89 L470.7,217.34 L469.95,217.76 L469.17,218.15 L468.38,218.52 L467.57,218.85 L466.75,219.15 L465.91,219.42 L465.07,219.67 L464.21,219.88 L463.34,220.05 L462.46,220.2 L461.57,220.32 L460.68,220.4 L459.78,220.45 L458.88,220.47 L457.97,220.45 L457.06,220.41 L456.15,220.33 L455.23,220.22 L454.32,220.07 L453.41,219.9 L452.5,219.69 L451.6,219.45 L450.7,219.18 L449.81,218.88 L448.93,218.55 L448.05,218.19 L447.18,217.8 L446.33,217.38 L445.48,216.94 L444.65,216.46 L443.83,215.96 L443.03,215.43 L442.24,214.87 L441.46,214.29 L440.71,213.69 L439.97,213.05 L439.26,212.4 L438.56,211.73 L437.88,211.03 L437.23,210.31 L436.6,209.57 L435.99,208.81 L435.4,208.04 L434.85,207.24 L434.31,206.43 L433.8,205.61 L433.32,204.77 L432.87,203.92 L432.44,203.06 L432.05,202.18 L431.68,201.3 L431.34,200.4 L431.03,199.5 L430.75,198.59 L430.5,197.68 L430.29,196.76 L430.1,195.84 L429.94,194.91 L429.82,193.98 L429.73,193.06 L429.67,192.13 L429.64,191.21 L429.64,190.29 L429.68,189.38 L429.75,188.47 L429.84,187.56 L429.97,186.67Z" fill="#fff" stroke="#333" stroke-width="0.9"/>
<g transform="translate(125.6,225.8)" fill="none" stroke="#1a1a1a" stroke-width="1.75" stroke-linecap="round" stroke-linejoin="round"><path d="M0.3,-0.3 L8.2,7.4 M7.7,-0.6 L0,5.9"/><path d="M21.3,-5 C20,-7.2 15.2,-6.8 14.6,-3.8 C14,-1 17.5,0.5 19.5,2.5 C22.5,5.2 24.2,8.5 22.6,11 C20.8,13.4 15.6,13.2 14,10.2 C12.6,7.6 15,4.8 17.5,2.6 C19.8,0.6 22.2,-1.6 21.3,-5 Z"/></g>
<g transform="translate(408.8,226.5)" fill="none" stroke="#1a1a1a" stroke-width="1.75" stroke-linecap="round" stroke-linejoin="round"><path d="M0.3,-0.3 L8.2,7.4 M7.7,-0.6 L0,5.9"/><path d="M16.2,3.3 C14.2,2.2 14.6,-2 17.6,-3.6 C20.5,-4.9 24.1,-3.4 23.4,0 C22.8,3 15.7,8.6 12.8,11.2 L23,11.4"/></g>
<path d="M159.35,339.1 L140.96,341.89 L140.04,342.01 L139.12,342.1 L138.19,342.16 L137.26,342.18 L136.32,342.17 L135.38,342.13 L134.43,342.06 L133.49,341.96 L132.54,341.82 L131.6,341.66 L130.66,341.46 L129.72,341.23 L128.79,340.97 L127.86,340.68 L126.94,340.36 L126.03,340.01 L125.13,339.63 L124.23,339.22 L123.35,338.79 L122.48,338.32 L121.63,337.83 L120.79,337.31 L119.96,336.77 L119.16,336.2 L118.36,335.6 L117.59,334.99 L116.84,334.34 L116.11,333.68 L115.4,332.99 L114.71,332.29 L114.04,331.56 L113.4,330.82 L112.78,330.05 L112.19,329.27 L111.63,328.48 L111.09,327.67 L110.58,326.84 L110.09,326 L109.64,325.15 L109.21,324.29 L108.82,323.41 L108.45,322.53 L108.12,321.64 L107.81,320.75 L107.54,319.84 L107.3,318.94 L107.09,318.03 L106.91,317.11 L106.77,316.2 L106.66,315.28 L106.58,314.37 L106.53,313.45 L106.52,312.55 L106.54,311.64 L106.59,310.74 L106.68,309.85 L106.8,308.96 L106.95,308.08 L107.14,307.22 L107.35,306.36 L107.6,305.51 L107.88,304.68 L108.19,303.86 L108.54,303.06 L108.91,302.27 L109.31,301.5 L109.74,300.74 L110.21,300.01 L110.7,299.29 L111.21,298.59 L111.76,297.92 L112.33,297.27 L112.93,296.64 L113.55,296.03 L114.2,295.45 L114.87,294.89 L115.57,294.36 L116.28,293.85 L117.02,293.37 L117.78,292.92 L118.55,292.5 L119.35,292.11 L120.16,291.74 L120.99,291.41 L121.83,291.1 L122.69,290.82 L123.56,290.58 L124.45,290.37 L125.34,290.18 L126.25,290.03 L127.16,289.91 L128.08,289.82 L129.01,289.77 L129.95,289.74 L130.88,289.75 L131.83,289.79 L132.77,289.86 L133.72,289.97 L134.66,290.1 L135.6,290.27 L136.55,290.47 L137.48,290.69 L138.42,290.95 L139.34,291.24 L140.26,291.57 L141.18,291.92 L142.08,292.29 L142.97,292.7 L143.85,293.14 L144.72,293.6 L145.58,294.1 L146.42,294.61 L147.24,295.16 L148.05,295.73 L148.84,296.32 L149.61,296.94 L150.37,297.58 L151.1,298.24 L151.81,298.93 L152.5,299.64 L153.16,300.36 L153.8,301.11 L154.42,301.87 L155.01,302.65 L155.58,303.45 L156.12,304.26 L156.63,305.08 L157.11,305.92 L157.57,306.77 L157.99,307.64 L158.39,308.51 L158.75,309.39 L159.09,310.28 L159.39,311.18 L159.67,312.08 L159.91,312.99 L160.12,313.9 L160.29,314.81 L160.44,315.73 L160.55,316.64 L160.63,317.56 L160.67,318.47 L160.68,319.38 L160.66,320.28Z" fill="#fff" stroke="#1a1a1a" stroke-width="2.9"/>
<path d="M159.35,339.1 L160.85,316.42 L160.95,315.49 L161.09,314.57 L161.25,313.66 L161.45,312.74 L161.68,311.84 L161.93,310.94 L162.22,310.04 L162.54,309.16 L162.89,308.29 L163.27,307.43 L163.68,306.58 L164.11,305.74 L164.58,304.92 L165.07,304.11 L165.58,303.32 L166.13,302.55 L166.7,301.8 L167.29,301.06 L167.91,300.35 L168.55,299.65 L169.21,298.98 L169.9,298.33 L170.6,297.7 L171.33,297.1 L172.07,296.52 L172.84,295.97 L173.62,295.44 L174.41,294.94 L175.22,294.47 L176.05,294.03 L176.89,293.61 L177.74,293.23 L178.6,292.87 L179.48,292.54 L180.36,292.25 L181.25,291.98 L182.15,291.75 L183.05,291.54 L183.96,291.37 L184.87,291.23 L185.78,291.12 L186.7,291.05 L187.61,291.01 L188.53,291 L189.44,291.02 L190.35,291.07 L191.26,291.16 L192.16,291.27 L193.05,291.42 L193.94,291.61 L194.82,291.82 L195.69,292.06 L196.55,292.34 L197.39,292.64 L198.23,292.98 L199.05,293.35 L199.85,293.74 L200.64,294.17 L201.42,294.62 L202.17,295.1 L202.91,295.61 L203.63,296.14 L204.33,296.7 L205,297.29 L205.66,297.9 L206.29,298.54 L206.9,299.19 L207.48,299.87 L208.04,300.57 L208.57,301.3 L209.08,302.04 L209.56,302.8 L210.01,303.58 L210.44,304.37 L210.83,305.18 L211.2,306.01 L211.54,306.85 L211.84,307.7 L212.12,308.57 L212.37,309.45 L212.58,310.33 L212.77,311.23 L212.92,312.13 L213.04,313.04 L213.13,313.95 L213.19,314.87 L213.21,315.79 L213.21,316.72 L213.17,317.64 L213.1,318.57 L213,319.49 L212.86,320.41 L212.7,321.33 L212.5,322.24 L212.27,323.15 L212.01,324.05 L211.72,324.94 L211.41,325.82 L211.06,326.69 L210.68,327.56 L210.27,328.4 L209.84,329.24 L209.37,330.06 L208.88,330.87 L208.36,331.66 L207.82,332.43 L207.25,333.19 L206.66,333.92 L206.04,334.64 L205.4,335.33 L204.74,336 L204.05,336.65 L203.35,337.28 L202.62,337.88 L201.88,338.46 L201.11,339.01 L200.33,339.54 L199.54,340.04 L198.72,340.51 L197.9,340.96 L197.06,341.37 L196.21,341.76 L195.34,342.11 L194.47,342.44 L193.59,342.74 L192.7,343 L191.8,343.24 L190.9,343.44 L189.99,343.61 L189.08,343.75 L188.17,343.86 L187.25,343.93 L186.33,343.98 L185.42,343.99 L184.51,343.97 L183.6,343.91 L182.69,343.83 L181.79,343.71 L180.89,343.56Z" fill="#fff" stroke="#1a1a1a" stroke-width="2.9"/>
<path d="M159.35,339.1 L158.14,359.22 L158.06,360.12 L157.96,361.02 L157.82,361.92 L157.65,362.82 L157.45,363.72 L157.21,364.61 L156.95,365.5 L156.66,366.38 L156.33,367.25 L155.98,368.12 L155.59,368.97 L155.18,369.82 L154.74,370.65 L154.28,371.47 L153.78,372.28 L153.26,373.08 L152.71,373.85 L152.14,374.62 L151.54,375.36 L150.92,376.09 L150.28,376.79 L149.61,377.48 L148.93,378.15 L148.22,378.79 L147.49,379.42 L146.74,380.01 L145.98,380.59 L145.2,381.14 L144.4,381.67 L143.58,382.17 L142.76,382.64 L141.92,383.09 L141.07,383.51 L140.2,383.9 L139.33,384.26 L138.45,384.59 L137.56,384.89 L136.66,385.17 L135.76,385.41 L134.85,385.62 L133.94,385.81 L133.03,385.96 L132.11,386.08 L131.2,386.17 L130.28,386.22 L129.37,386.25 L128.46,386.25 L127.56,386.21 L126.66,386.14 L125.77,386.04 L124.89,385.91 L124.01,385.75 L123.14,385.56 L122.29,385.33 L121.45,385.08 L120.62,384.79 L119.8,384.48 L119,384.14 L118.21,383.77 L117.44,383.37 L116.69,382.94 L115.96,382.48 L115.24,382 L114.55,381.49 L113.88,380.96 L113.23,380.4 L112.6,379.81 L112,379.21 L111.42,378.58 L110.87,377.92 L110.34,377.25 L109.84,376.56 L109.37,375.84 L108.92,375.11 L108.5,374.36 L108.11,373.59 L107.75,372.81 L107.42,372.01 L107.12,371.2 L106.84,370.37 L106.6,369.53 L106.39,368.68 L106.22,367.82 L106.07,366.96 L105.95,366.08 L105.87,365.2 L105.82,364.31 L105.8,363.41 L105.81,362.52 L105.85,361.62 L105.93,360.72 L106.04,359.81 L106.18,358.91 L106.35,358.01 L106.55,357.12 L106.78,356.22 L107.05,355.34 L107.34,354.46 L107.66,353.58 L108.02,352.72 L108.4,351.86 L108.81,351.02 L109.25,350.18 L109.72,349.36 L110.21,348.55 L110.74,347.76 L111.28,346.98 L111.85,346.22 L112.45,345.47 L113.07,344.75 L113.72,344.04 L114.38,343.35 L115.07,342.69 L115.78,342.04 L116.51,341.42 L117.25,340.82 L118.02,340.24 L118.8,339.69 L119.6,339.17 L120.41,338.67 L121.24,338.19 L122.08,337.75 L122.93,337.33 L123.79,336.94 L124.67,336.58 L125.55,336.24 L126.44,335.94 L127.34,335.67 L128.24,335.42 L129.15,335.21 L130.06,335.03 L130.97,334.88 L131.88,334.76 L132.8,334.67 L133.71,334.61 L134.62,334.58 L135.53,334.59 L136.43,334.63 L137.33,334.69 L138.22,334.79 L139.11,334.92 L139.98,335.09Z" fill="#fff" stroke="#1a1a1a" stroke-width="2.9"/>
<path d="M159.35,339.1 L180.36,339.96 L181.27,340.04 L182.19,340.15 L183.1,340.3 L184.01,340.47 L184.92,340.68 L185.82,340.92 L186.72,341.19 L187.61,341.49 L188.49,341.82 L189.37,342.18 L190.24,342.57 L191.09,342.98 L191.94,343.43 L192.77,343.91 L193.59,344.41 L194.39,344.94 L195.18,345.5 L195.96,346.08 L196.71,346.68 L197.45,347.31 L198.16,347.97 L198.86,348.64 L199.54,349.34 L200.19,350.06 L200.82,350.8 L201.43,351.56 L202.02,352.33 L202.57,353.13 L203.11,353.93 L203.62,354.76 L204.1,355.6 L204.55,356.45 L204.98,357.31 L205.37,358.19 L205.74,359.07 L206.08,359.97 L206.39,360.87 L206.67,361.78 L206.92,362.69 L207.13,363.61 L207.32,364.53 L207.48,365.46 L207.6,366.38 L207.69,367.31 L207.75,368.24 L207.78,369.16 L207.78,370.08 L207.74,370.99 L207.67,371.9 L207.58,372.8 L207.45,373.7 L207.28,374.59 L207.09,375.46 L206.87,376.33 L206.61,377.18 L206.33,378.02 L206.01,378.85 L205.67,379.66 L205.29,380.45 L204.89,381.23 L204.46,381.99 L204,382.73 L203.51,383.45 L203,384.15 L202.46,384.83 L201.9,385.49 L201.31,386.12 L200.69,386.73 L200.06,387.31 L199.4,387.87 L198.72,388.4 L198.02,388.91 L197.29,389.39 L196.55,389.84 L195.8,390.26 L195.02,390.65 L194.23,391.02 L193.42,391.35 L192.6,391.65 L191.76,391.92 L190.92,392.17 L190.06,392.38 L189.19,392.55 L188.31,392.7 L187.42,392.82 L186.53,392.9 L185.63,392.95 L184.73,392.97 L183.82,392.95 L182.91,392.91 L182,392.83 L181.08,392.72 L180.17,392.57 L179.26,392.4 L178.35,392.19 L177.45,391.95 L176.55,391.68 L175.66,391.38 L174.78,391.05 L173.9,390.69 L173.03,390.3 L172.18,389.88 L171.33,389.44 L170.5,388.96 L169.68,388.46 L168.88,387.93 L168.09,387.37 L167.31,386.79 L166.56,386.19 L165.82,385.55 L165.11,384.9 L164.41,384.23 L163.73,383.53 L163.08,382.81 L162.45,382.07 L161.84,381.31 L161.25,380.54 L160.7,379.74 L160.16,378.93 L159.65,378.11 L159.17,377.27 L158.72,376.42 L158.29,375.56 L157.9,374.68 L157.53,373.8 L157.19,372.9 L156.88,372 L156.6,371.09 L156.35,370.18 L156.14,369.26 L155.95,368.34 L155.79,367.41 L155.67,366.48 L155.58,365.56 L155.52,364.63 L155.49,363.71 L155.49,362.79 L155.53,361.88 L155.6,360.97 L155.69,360.06 L155.82,359.17Z" fill="#fff" stroke="#1a1a1a" stroke-width="2.9"/>
<path d="M159.35,339.1 L140.96,341.89 L140.04,342.01 L139.12,342.1 L138.19,342.16 L137.26,342.18 L136.32,342.17 L135.38,342.13 L134.43,342.06 L133.49,341.96 L132.54,341.82 L131.6,341.66 L130.66,341.46 L129.72,341.23 L128.79,340.97 L127.86,340.68 L126.94,340.36 L126.03,340.01 L125.13,339.63 L124.23,339.22 L123.35,338.79 L122.48,338.32 L121.63,337.83 L120.79,337.31 L119.96,336.77 L119.16,336.2 L118.36,335.6 L117.59,334.99 L116.84,334.34 L116.11,333.68 L115.4,332.99 L114.71,332.29 L114.04,331.56 L113.4,330.82 L112.78,330.05 L112.19,329.27 L111.63,328.48 L111.09,327.67 L110.58,326.84 L110.09,326 L109.64,325.15 L109.21,324.29 L108.82,323.41 L108.45,322.53 L108.12,321.64 L107.81,320.75 L107.54,319.84 L107.3,318.94 L107.09,318.03 L106.91,317.11 L106.77,316.2 L106.66,315.28 L106.58,314.37 L106.53,313.45 L106.52,312.55 L106.54,311.64 L106.59,310.74 L106.68,309.85 L106.8,308.96 L106.95,308.08 L107.14,307.22 L107.35,306.36 L107.6,305.51 L107.88,304.68 L108.19,303.86 L108.54,303.06 L108.91,302.27 L109.31,301.5 L109.74,300.74 L110.21,300.01 L110.7,299.29 L111.21,298.59 L111.76,297.92 L112.33,297.27 L112.93,296.64 L113.55,296.03 L114.2,295.45 L114.87,294.89 L115.57,294.36 L116.28,293.85 L117.02,293.37 L117.78,292.92 L118.55,292.5 L119.35,292.11 L120.16,291.74 L120.99,291.41 L121.83,291.1 L122.69,290.82 L123.56,290.58 L124.45,290.37 L125.34,290.18 L126.25,290.03 L127.16,289.91 L128.08,289.82 L129.01,289.77 L129.95,289.74 L130.88,289.75 L131.83,289.79 L132.77,289.86 L133.72,289.97 L134.66,290.1 L135.6,290.27 L136.55,290.47 L137.48,290.69 L138.42,290.95 L139.34,291.24 L140.26,291.57 L141.18,291.92 L142.08,292.29 L142.97,292.7 L143.85,293.14 L144.72,293.6 L145.58,294.1 L146.42,294.61 L147.24,295.16 L148.05,295.73 L148.84,296.32 L149.61,296.94 L150.37,297.58 L151.1,298.24 L151.81,298.93 L152.5,299.64 L153.16,300.36 L153.8,301.11 L154.42,301.87 L155.01,302.65 L155.58,303.45 L156.12,304.26 L156.63,305.08 L157.11,305.92 L157.57,306.77 L157.99,307.64 L158.39,308.51 L158.75,309.39 L159.09,310.28 L159.39,311.18 L159.67,312.08 L159.91,312.99 L160.12,313.9 L160.29,314.81 L160.44,315.73 L160.55,316.64 L160.63,317.56 L160.67,318.47 L160.68,319.38 L160.66,320.28Z" fill="#fff"/>
<path d="M159.35,339.1 L160.85,316.42 L160.95,315.49 L161.09,314.57 L161.25,313.66 L161.45,312.74 L161.68,311.84 L161.93,310.94 L162.22,310.04 L162.54,309.16 L162.89,308.29 L163.27,307.43 L163.68,306.58 L164.11,305.74 L164.58,304.92 L165.07,304.11 L165.58,303.32 L166.13,302.55 L166.7,301.8 L167.29,301.06 L167.91,300.35 L168.55,299.65 L169.21,298.98 L169.9,298.33 L170.6,297.7 L171.33,297.1 L172.07,296.52 L172.84,295.97 L173.62,295.44 L174.41,294.94 L175.22,294.47 L176.05,294.03 L176.89,293.61 L177.74,293.23 L178.6,292.87 L179.48,292.54 L180.36,292.25 L181.25,291.98 L182.15,291.75 L183.05,291.54 L183.96,291.37 L184.87,291.23 L185.78,291.12 L186.7,291.05 L187.61,291.01 L188.53,291 L189.44,291.02 L190.35,291.07 L191.26,291.16 L192.16,291.27 L193.05,291.42 L193.94,291.61 L194.82,291.82 L195.69,292.06 L196.55,292.34 L197.39,292.64 L198.23,292.98 L199.05,293.35 L199.85,293.74 L200.64,294.17 L201.42,294.62 L202.17,295.1 L202.91,295.61 L203.63,296.14 L204.33,296.7 L205,297.29 L205.66,297.9 L206.29,298.54 L206.9,299.19 L207.48,299.87 L208.04,300.57 L208.57,301.3 L209.08,302.04 L209.56,302.8 L210.01,303.58 L210.44,304.37 L210.83,305.18 L211.2,306.01 L211.54,306.85 L211.84,307.7 L212.12,308.57 L212.37,309.45 L212.58,310.33 L212.77,311.23 L212.92,312.13 L213.04,313.04 L213.13,313.95 L213.19,314.87 L213.21,315.79 L213.21,316.72 L213.17,317.64 L213.1,318.57 L213,319.49 L212.86,320.41 L212.7,321.33 L212.5,322.24 L212.27,323.15 L212.01,324.05 L211.72,324.94 L211.41,325.82 L211.06,326.69 L210.68,327.56 L210.27,328.4 L209.84,329.24 L209.37,330.06 L208.88,330.87 L208.36,331.66 L207.82,332.43 L207.25,333.19 L206.66,333.92 L206.04,334.64 L205.4,335.33 L204.74,336 L204.05,336.65 L203.35,337.28 L202.62,337.88 L201.88,338.46 L201.11,339.01 L200.33,339.54 L199.54,340.04 L198.72,340.51 L197.9,340.96 L197.06,341.37 L196.21,341.76 L195.34,342.11 L194.47,342.44 L193.59,342.74 L192.7,343 L191.8,343.24 L190.9,343.44 L189.99,343.61 L189.08,343.75 L188.17,343.86 L187.25,343.93 L186.33,343.98 L185.42,343.99 L184.51,343.97 L183.6,343.91 L182.69,343.83 L181.79,343.71 L180.89,343.56Z" fill="#fff"/>
<path d="M159.35,339.1 L158.14,359.22 L158.06,360.12 L157.96,361.02 L157.82,361.92 L157.65,362.82 L157.45,363.72 L157.21,364.61 L156.95,365.5 L156.66,366.38 L156.33,367.25 L155.98,368.12 L155.59,368.97 L155.18,369.82 L154.74,370.65 L154.28,371.47 L153.78,372.28 L153.26,373.08 L152.71,373.85 L152.14,374.62 L151.54,375.36 L150.92,376.09 L150.28,376.79 L149.61,377.48 L148.93,378.15 L148.22,378.79 L147.49,379.42 L146.74,380.01 L145.98,380.59 L145.2,381.14 L144.4,381.67 L143.58,382.17 L142.76,382.64 L141.92,383.09 L141.07,383.51 L140.2,383.9 L139.33,384.26 L138.45,384.59 L137.56,384.89 L136.66,385.17 L135.76,385.41 L134.85,385.62 L133.94,385.81 L133.03,385.96 L132.11,386.08 L131.2,386.17 L130.28,386.22 L129.37,386.25 L128.46,386.25 L127.56,386.21 L126.66,386.14 L125.77,386.04 L124.89,385.91 L124.01,385.75 L123.14,385.56 L122.29,385.33 L121.45,385.08 L120.62,384.79 L119.8,384.48 L119,384.14 L118.21,383.77 L117.44,383.37 L116.69,382.94 L115.96,382.48 L115.24,382 L114.55,381.49 L113.88,380.96 L113.23,380.4 L112.6,379.81 L112,379.21 L111.42,378.58 L110.87,377.92 L110.34,377.25 L109.84,376.56 L109.37,375.84 L108.92,375.11 L108.5,374.36 L108.11,373.59 L107.75,372.81 L107.42,372.01 L107.12,371.2 L106.84,370.37 L106.6,369.53 L106.39,368.68 L106.22,367.82 L106.07,366.96 L105.95,366.08 L105.87,365.2 L105.82,364.31 L105.8,363.41 L105.81,362.52 L105.85,361.62 L105.93,360.72 L106.04,359.81 L106.18,358.91 L106.35,358.01 L106.55,357.12 L106.78,356.22 L107.05,355.34 L107.34,354.46 L107.66,353.58 L108.02,352.72 L108.4,351.86 L108.81,351.02 L109.25,350.18 L109.72,349.36 L110.21,348.55 L110.74,347.76 L111.28,346.98 L111.85,346.22 L112.45,345.47 L113.07,344.75 L113.72,344.04 L114.38,343.35 L115.07,342.69 L115.78,342.04 L116.51,341.42 L117.25,340.82 L118.02,340.24 L118.8,339.69 L119.6,339.17 L120.41,338.67 L121.24,338.19 L122.08,337.75 L122.93,337.33 L123.79,336.94 L124.67,336.58 L125.55,336.24 L126.44,335.94 L127.34,335.67 L128.24,335.42 L129.15,335.21 L130.06,335.03 L130.97,334.88 L131.88,334.76 L132.8,334.67 L133.71,334.61 L134.62,334.58 L135.53,334.59 L136.43,334.63 L137.33,334.69 L138.22,334.79 L139.11,334.92 L139.98,335.09Z" fill="#fff"/>
<path d="M159.35,339.1 L180.36,339.96 L181.27,340.04 L182.19,340.15 L183.1,340.3 L184.01,340.47 L184.92,340.68 L185.82,340.92 L186.72,341.19 L187.61,341.49 L188.49,341.82 L189.37,342.18 L190.24,342.57 L191.09,342.98 L191.94,343.43 L192.77,343.91 L193.59,344.41 L194.39,344.94 L195.18,345.5 L195.96,346.08 L196.71,346.68 L197.45,347.31 L198.16,347.97 L198.86,348.64 L199.54,349.34 L200.19,350.06 L200.82,350.8 L201.43,351.56 L202.02,352.33 L202.57,353.13 L203.11,353.93 L203.62,354.76 L204.1,355.6 L204.55,356.45 L204.98,357.31 L205.37,358.19 L205.74,359.07 L206.08,359.97 L206.39,360.87 L206.67,361.78 L206.92,362.69 L207.13,363.61 L207.32,364.53 L207.48,365.46 L207.6,366.38 L207.69,367.31 L207.75,368.24 L207.78,369.16 L207.78,370.08 L207.74,370.99 L207.67,371.9 L207.58,372.8 L207.45,373.7 L207.28,374.59 L207.09,375.46 L206.87,376.33 L206.61,377.18 L206.33,378.02 L206.01,378.85 L205.67,379.66 L205.29,380.45 L204.89,381.23 L204.46,381.99 L204,382.73 L203.51,383.45 L203,384.15 L202.46,384.83 L201.9,385.49 L201.31,386.12 L200.69,386.73 L200.06,387.31 L199.4,387.87 L198.72,388.4 L198.02,388.91 L197.29,389.39 L196.55,389.84 L195.8,390.26 L195.02,390.65 L194.23,391.02 L193.42,391.35 L192.6,391.65 L191.76,391.92 L190.92,392.17 L190.06,392.38 L189.19,392.55 L188.31,392.7 L187.42,392.82 L186.53,392.9 L185.63,392.95 L184.73,392.97 L183.82,392.95 L182.91,392.91 L182,392.83 L181.08,392.72 L180.17,392.57 L179.26,392.4 L178.35,392.19 L177.45,391.95 L176.55,391.68 L175.66,391.38 L174.78,391.05 L173.9,390.69 L173.03,390.3 L172.18,389.88 L171.33,389.44 L170.5,388.96 L169.68,388.46 L168.88,387.93 L168.09,387.37 L167.31,386.79 L166.56,386.19 L165.82,385.55 L165.11,384.9 L164.41,384.23 L163.73,383.53 L163.08,382.81 L162.45,382.07 L161.84,381.31 L161.25,380.54 L160.7,379.74 L160.16,378.93 L159.65,378.11 L159.17,377.27 L158.72,376.42 L158.29,375.56 L157.9,374.68 L157.53,373.8 L157.19,372.9 L156.88,372 L156.6,371.09 L156.35,370.18 L156.14,369.26 L155.95,368.34 L155.79,367.41 L155.67,366.48 L155.58,365.56 L155.52,364.63 L155.49,363.71 L155.49,362.79 L155.53,361.88 L155.6,360.97 L155.69,360.06 L155.82,359.17Z" fill="#fff"/>
<path d="M159.35,339.1 L140.96,341.89 L140.04,342.01 L139.12,342.1 L138.19,342.16 L137.26,342.18 L136.32,342.17 L135.38,342.13 L134.43,342.06 L133.49,341.96 L132.54,341.82 L131.6,341.66 L130.66,341.46 L129.72,341.23 L128.79,340.97 L127.86,340.68 L126.94,340.36 L126.03,340.01 L125.13,339.63 L124.23,339.22 L123.35,338.79 L122.48,338.32 L121.63,337.83 L120.79,337.31 L119.96,336.77 L119.16,336.2 L118.36,335.6 L117.59,334.99 L116.84,334.34 L116.11,333.68 L115.4,332.99 L114.71,332.29 L114.04,331.56 L113.4,330.82 L112.78,330.05 L112.19,329.27 L111.63,328.48 L111.09,327.67 L110.58,326.84 L110.09,326 L109.64,325.15 L109.21,324.29 L108.82,323.41 L108.45,322.53 L108.12,321.64 L107.81,320.75 L107.54,319.84 L107.3,318.94 L107.09,318.03 L106.91,317.11 L106.77,316.2 L106.66,315.28 L106.58,314.37 L106.53,313.45 L106.52,312.55 L106.54,311.64 L106.59,310.74 L106.68,309.85 L106.8,308.96 L106.95,308.08 L107.14,307.22 L107.35,306.36 L107.6,305.51 L107.88,304.68 L108.19,303.86 L108.54,303.06 L108.91,302.27 L109.31,301.5 L109.74,300.74 L110.21,300.01 L110.7,299.29 L111.21,298.59 L111.76,297.92 L112.33,297.27 L112.93,296.64 L113.55,296.03 L114.2,295.45 L114.87,294.89 L115.57,294.36 L116.28,293.85 L117.02,293.37 L117.78,292.92 L118.55,292.5 L119.35,292.11 L120.16,291.74 L120.99,291.41 L121.83,291.1 L122.69,290.82 L123.56,290.58 L124.45,290.37 L125.34,290.18 L126.25,290.03 L127.16,289.91 L128.08,289.82 L129.01,289.77 L129.95,289.74 L130.88,289.75 L131.83,289.79 L132.77,289.86 L133.72,289.97 L134.66,290.1 L135.6,290.27 L136.55,290.47 L137.48,290.69 L138.42,290.95 L139.34,291.24 L140.26,291.57 L141.18,291.92 L142.08,292.29 L142.97,292.7 L143.85,293.14 L144.72,293.6 L145.58,294.1 L146.42,294.61 L147.24,295.16 L148.05,295.73 L148.84,296.32 L149.61,296.94 L150.37,297.58 L151.1,298.24 L151.81,298.93 L152.5,299.64 L153.16,300.36 L153.8,301.11 L154.42,301.87 L155.01,302.65 L155.58,303.45 L156.12,304.26 L156.63,305.08 L157.11,305.92 L157.57,306.77 L157.99,307.64 L158.39,308.51 L158.75,309.39 L159.09,310.28 L159.39,311.18 L159.67,312.08 L159.91,312.99 L160.12,313.9 L160.29,314.81 L160.44,315.73 L160.55,316.64 L160.63,317.56 L160.67,318.47 L160.68,319.38 L160.66,320.28Z" fill="#fff" stroke="#333" stroke-width="0.9"/>
<path d="M159.35,339.1 L160.85,316.42 L160.95,315.49 L161.09,314.57 L161.25,313.66 L161.45,312.74 L161.68,311.84 L161.93,310.94 L162.22,310.04 L162.54,309.16 L162.89,308.29 L163.27,307.43 L163.68,306.58 L164.11,305.74 L164.58,304.92 L165.07,304.11 L165.58,303.32 L166.13,302.55 L166.7,301.8 L167.29,301.06 L167.91,300.35 L168.55,299.65 L169.21,298.98 L169.9,298.33 L170.6,297.7 L171.33,297.1 L172.07,296.52 L172.84,295.97 L173.62,295.44 L174.41,294.94 L175.22,294.47 L176.05,294.03 L176.89,293.61 L177.74,293.23 L178.6,292.87 L179.48,292.54 L180.36,292.25 L181.25,291.98 L182.15,291.75 L183.05,291.54 L183.96,291.37 L184.87,291.23 L185.78,291.12 L186.7,291.05 L187.61,291.01 L188.53,291 L189.44,291.02 L190.35,291.07 L191.26,291.16 L192.16,291.27 L193.05,291.42 L193.94,291.61 L194.82,291.82 L195.69,292.06 L196.55,292.34 L197.39,292.64 L198.23,292.98 L199.05,293.35 L199.85,293.74 L200.64,294.17 L201.42,294.62 L202.17,295.1 L202.91,295.61 L203.63,296.14 L204.33,296.7 L205,297.29 L205.66,297.9 L206.29,298.54 L206.9,299.19 L207.48,299.87 L208.04,300.57 L208.57,301.3 L209.08,302.04 L209.56,302.8 L210.01,303.58 L210.44,304.37 L210.83,305.18 L211.2,306.01 L211.54,306.85 L211.84,307.7 L212.12,308.57 L212.37,309.45 L212.58,310.33 L212.77,311.23 L212.92,312.13 L213.04,313.04 L213.13,313.95 L213.19,314.87 L213.21,315.79 L213.21,316.72 L213.17,317.64 L213.1,318.57 L213,319.49 L212.86,320.41 L212.7,321.33 L212.5,322.24 L212.27,323.15 L212.01,324.05 L211.72,324.94 L211.41,325.82 L211.06,326.69 L210.68,327.56 L210.27,328.4 L209.84,329.24 L209.37,330.06 L208.88,330.87 L208.36,331.66 L207.82,332.43 L207.25,333.19 L206.66,333.92 L206.04,334.64 L205.4,335.33 L204.74,336 L204.05,336.65 L203.35,337.28 L202.62,337.88 L201.88,338.46 L201.11,339.01 L200.33,339.54 L199.54,340.04 L198.72,340.51 L197.9,340.96 L197.06,341.37 L196.21,341.76 L195.34,342.11 L194.47,342.44 L193.59,342.74 L192.7,343 L191.8,343.24 L190.9,343.44 L189.99,343.61 L189.08,343.75 L188.17,343.86 L187.25,343.93 L186.33,343.98 L185.42,343.99 L184.51,343.97 L183.6,343.91 L182.69,343.83 L181.79,343.71 L180.89,343.56Z" fill="#fff" stroke="#333" stroke-width="0.9"/>
<path d="M159.35,339.1 L158.14,359.22 L158.06,360.12 L157.96,361.02 L157.82,361.92 L157.65,362.82 L157.45,363.72 L157.21,364.61 L156.95,365.5 L156.66,366.38 L156.33,367.25 L155.98,368.12 L155.59,368.97 L155.18,369.82 L154.74,370.65 L154.28,371.47 L153.78,372.28 L153.26,373.08 L152.71,373.85 L152.14,374.62 L151.54,375.36 L150.92,376.09 L150.28,376.79 L149.61,377.48 L148.93,378.15 L148.22,378.79 L147.49,379.42 L146.74,380.01 L145.98,380.59 L145.2,381.14 L144.4,381.67 L143.58,382.17 L142.76,382.64 L141.92,383.09 L141.07,383.51 L140.2,383.9 L139.33,384.26 L138.45,384.59 L137.56,384.89 L136.66,385.17 L135.76,385.41 L134.85,385.62 L133.94,385.81 L133.03,385.96 L132.11,386.08 L131.2,386.17 L130.28,386.22 L129.37,386.25 L128.46,386.25 L127.56,386.21 L126.66,386.14 L125.77,386.04 L124.89,385.91 L124.01,385.75 L123.14,385.56 L122.29,385.33 L121.45,385.08 L120.62,384.79 L119.8,384.48 L119,384.14 L118.21,383.77 L117.44,383.37 L116.69,382.94 L115.96,382.48 L115.24,382 L114.55,381.49 L113.88,380.96 L113.23,380.4 L112.6,379.81 L112,379.21 L111.42,378.58 L110.87,377.92 L110.34,377.25 L109.84,376.56 L109.37,375.84 L108.92,375.11 L108.5,374.36 L108.11,373.59 L107.75,372.81 L107.42,372.01 L107.12,371.2 L106.84,370.37 L106.6,369.53 L106.39,368.68 L106.22,367.82 L106.07,366.96 L105.95,366.08 L105.87,365.2 L105.82,364.31 L105.8,363.41 L105.81,362.52 L105.85,361.62 L105.93,360.72 L106.04,359.81 L106.18,358.91 L106.35,358.01 L106.55,357.12 L106.78,356.22 L107.05,355.34 L107.34,354.46 L107.66,353.58 L108.02,352.72 L108.4,351.86 L108.81,351.02 L109.25,350.18 L109.72,349.36 L110.21,348.55 L110.74,347.76 L111.28,346.98 L111.85,346.22 L112.45,345.47 L113.07,344.75 L113.72,344.04 L114.38,343.35 L115.07,342.69 L115.78,342.04 L116.51,341.42 L117.25,340.82 L118.02,340.24 L118.8,339.69 L119.6,339.17 L120.41,338.67 L121.24,338.19 L122.08,337.75 L122.93,337.33 L123.79,336.94 L124.67,336.58 L125.55,336.24 L126.44,335.94 L127.34,335.67 L128.24,335.42 L129.15,335.21 L130.06,335.03 L130.97,334.88 L131.88,334.76 L132.8,334.67 L133.71,334.61 L134.62,334.58 L135.53,334.59 L136.43,334.63 L137.33,334.69 L138.22,334.79 L139.11,334.92 L139.98,335.09Z" fill="#fff" stroke="#333" stroke-width="0.9"/>
<path d="M159.35,339.1 L180.36,339.96 L181.27,340.04 L182.19,340.15 L183.1,340.3 L184.01,340.47 L184.92,340.68 L185.82,340.92 L186.72,341.19 L187.61,341.49 L188.49,341.82 L189.37,342.18 L190.24,342.57 L191.09,342.98 L191.94,343.43 L192.77,343.91 L193.59,344.41 L194.39,344.94 L195.18,345.5 L195.96,346.08 L196.71,346.68 L197.45,347.31 L198.16,347.97 L198.86,348.64 L199.54,349.34 L200.19,350.06 L200.82,350.8 L201.43,351.56 L202.02,352.33 L202.57,353.13 L203.11,353.93 L203.62,354.76 L204.1,355.6 L204.55,356.45 L204.98,357.31 L205.37,358.19 L205.74,359.07 L206.08,359.97 L206.39,360.87 L206.67,361.78 L206.92,362.69 L207.13,363.61 L207.32,364.53 L207.48,365.46 L207.6,366.38 L207.69,367.31 L207.75,368.24 L207.78,369.16 L207.78,370.08 L207.74,370.99 L207.67,371.9 L207.58,372.8 L207.45,373.7 L207.28,374.59 L207.09,375.46 L206.87,376.33 L206.61,377.18 L206.33,378.02 L206.01,378.85 L205.67,379.66 L205.29,380.45 L204.89,381.23 L204.46,381.99 L204,382.73 L203.51,383.45 L203,384.15 L202.46,384.83 L201.9,385.49 L201.31,386.12 L200.69,386.73 L200.06,387.31 L199.4,387.87 L198.72,388.4 L198.02,388.91 L197.29,389.39 L196.55,389.84 L195.8,390.26 L195.02,390.65 L194.23,391.02 L193.42,391.35 L192.6,391.65 L191.76,391.92 L190.92,392.17 L190.06,392.38 L189.19,392.55 L188.31,392.7 L187.42,392.82 L186.53,392.9 L185.63,392.95 L184.73,392.97 L183.82,392.95 L182.91,392.91 L182,392.83 L181.08,392.72 L180.17,392.57 L179.26,392.4 L178.35,392.19 L177.45,391.95 L176.55,391.68 L175.66,391.38 L174.78,391.05 L173.9,390.69 L173.03,390.3 L172.18,389.88 L171.33,389.44 L170.5,388.96 L169.68,388.46 L168.88,387.93 L168.09,387.37 L167.31,386.79 L166.56,386.19 L165.82,385.55 L165.11,384.9 L164.41,384.23 L163.73,383.53 L163.08,382.81 L162.45,382.07 L161.84,381.31 L161.25,380.54 L160.7,379.74 L160.16,378.93 L159.65,378.11 L159.17,377.27 L158.72,376.42 L158.29,375.56 L157.9,374.68 L157.53,373.8 L157.19,372.9 L156.88,372 L156.6,371.09 L156.35,370.18 L156.14,369.26 L155.95,368.34 L155.79,367.41 L155.67,366.48 L155.58,365.56 L155.52,364.63 L155.49,363.71 L155.49,362.79 L155.53,361.88 L155.6,360.97 L155.69,360.06 L155.82,359.17Z" fill="#fff" stroke="#333" stroke-width="0.9"/>
<g transform="translate(132,401.9)" fill="none" stroke="#1a1a1a" stroke-width="1.75" stroke-linecap="round" stroke-linejoin="round"><path d="M0.3,-0.3 L8.2,7.4 M7.7,-0.6 L0,5.9"/><path d="M16.2,3.3 C14.2,2.2 14.6,-2 17.6,-3.6 C20.5,-4.9 24.1,-3.4 23.4,0 C22.8,3 15.7,8.6 12.8,11.2 L23,11.4"/></g>
<g transform="translate(241.4,401.9)" fill="none" stroke="#1a1a1a" stroke-width="1.75" stroke-linecap="round" stroke-linejoin="round"><path d="M0.3,-0.3 L8.2,7.4 M7.7,-0.6 L0,5.9"/><path d="M16.2,3.3 C14.2,2.2 14.6,-2 17.6,-3.6 C20.5,-4.9 24.1,-3.4 23.4,0 C22.8,3 15.7,8.6 12.8,11.2 L23,11.4"/></g>
<path d="M234.7,344.6 V352.4 M230.6,348.4 H238.8" stroke="#1a1a1a" stroke-width="2.2" stroke-linecap="round" fill="none"/>
<circle cx="248.5" cy="295.4" r="28.6" fill="#fff" stroke="#1a1a1a" stroke-width="1.3"/>
<g fill="#fff" stroke="#1a1a1a" stroke-width="3.4"><ellipse cx="236.0" cy="290.9" rx="12.9" ry="10.8"/><ellipse cx="235.3" cy="288.3" rx="13.0" ry="10.8"/><ellipse cx="261.2" cy="290.6" rx="13.4" ry="11.4"/><ellipse cx="261.7" cy="287.4" rx="13.3" ry="10.9"/></g>
<g fill="#fff"><ellipse cx="236.0" cy="290.9" rx="12.9" ry="10.8"/><ellipse cx="235.3" cy="288.3" rx="13.0" ry="10.8"/><ellipse cx="261.2" cy="290.6" rx="13.4" ry="11.4"/><ellipse cx="261.7" cy="287.4" rx="13.3" ry="10.9"/></g>
<g fill="none" stroke="#333" stroke-width="0.9"><ellipse cx="235.3" cy="288.3" rx="13.0" ry="10.8"/><ellipse cx="261.7" cy="287.4" rx="13.3" ry="10.9"/></g>
<path d="M244.5,324 L247,307.5 Q248,304.6 249.3,307.5 L247.6,324" fill="#fff" stroke="#1a1a1a" stroke-width="1.2"/>
<path d="M251,309.8 L251.2,302 M249.8,304.2 L251.2,301.8 L252.6,304" fill="none" stroke="#1a1a1a" stroke-width="0.9"/>
<g transform="rotate(20,273,342)"><rect x="270.6" y="297.8" width="4.8" height="87.4" rx="1.8" fill="#fff" stroke="#1a1a1a" stroke-width="1.55"/><ellipse cx="273" cy="300.2" rx="1.7" ry="0.75" fill="none" stroke="#444" stroke-width="0.7"/></g>
<g transform="translate(290.5,347.6)" fill="none" stroke="#1a1a1a" stroke-width="2.1" stroke-linecap="round" stroke-linejoin="round"><path d="M0,0 Q13,-4.4 30.5,-2.1"/><path d="M22.6,-7.9 L30.5,-2.1 L20.9,0.4"/></g>
<g fill="#fff" stroke="#1a1a1a" stroke-width="3.2"><ellipse cx="389.5" cy="301" rx="21.8" ry="23.4"/><ellipse cx="360" cy="336.7" rx="24" ry="27.3"/><ellipse cx="402" cy="350" rx="22.5" ry="22.5"/></g><g fill="#fff"><ellipse cx="389.5" cy="301" rx="21.8" ry="23.4"/><ellipse cx="360" cy="336.7" rx="24" ry="27.3"/><ellipse cx="402" cy="350" rx="22.5" ry="22.5"/></g><g fill="#fff" stroke="#2a2a2a" stroke-width="0.9"><ellipse cx="389.5" cy="301" rx="21.8" ry="23.4"/><ellipse cx="360" cy="336.7" rx="24" ry="27.3"/><ellipse cx="402" cy="350" rx="22.5" ry="22.5"/></g>
<path d="M387.4,352 L394.2,409.2 L398.6,409.2 L391.8,352" fill="#fff" stroke="#1a1a1a" stroke-width="1.3" stroke-linejoin="round"/>
<ellipse cx="401.8" cy="328.4" rx="27.8" ry="30" fill="#fff" stroke="#3a3a3a" stroke-width="1.05"/>
<g fill="#fff" stroke="#1a1a1a" stroke-width="3.2"><ellipse cx="454" cy="312.6" rx="22.3" ry="22.8"/><ellipse cx="457" cy="340" rx="23" ry="24"/><ellipse cx="501.6" cy="321.7" rx="26.7" ry="27.4"/></g><g fill="#fff"><ellipse cx="454" cy="312.6" rx="22.3" ry="22.8"/><ellipse cx="457" cy="340" rx="23" ry="24"/><ellipse cx="501.6" cy="321.7" rx="26.7" ry="27.4"/></g><g fill="#fff" stroke="#2a2a2a" stroke-width="0.9"><ellipse cx="454" cy="312.6" rx="22.3" ry="22.8"/><ellipse cx="457" cy="340" rx="23" ry="24"/><ellipse cx="501.6" cy="321.7" rx="26.7" ry="27.4"/></g>
<path d="M480.3,352 L478.2,413.8 L482.6,413.8 L484.7,352" fill="#fff" stroke="#1a1a1a" stroke-width="1.3" stroke-linejoin="round"/>
<ellipse cx="478.6" cy="325.2" rx="28" ry="30.8" fill="#fff" stroke="#3a3a3a" stroke-width="1.05"/>
<g fill="#fff" stroke="#1a1a1a" stroke-width="0.95" stroke-linejoin="round"><path d="M439.9,310.2 A3.7,3.7 0 1 1 444.6,311.2 L439.6,314.6 Q437.2,315.2 437,313.3 Z"/><path d="M461.6,329.8 A3.4,3.4 0 1 1 465.3,329.9 L464.3,334.4 Q462.5,336.2 461.5,334.4 Z"/></g>
<g fill="none" stroke="#555" stroke-width="0.7"><path d="M445.2,305 Q446.6,308 444.6,310.6"/><path d="M465.8,324.4 Q467.4,327 465.9,329.6"/></g>
<g transform="translate(502.4,234.8) rotate(19.4) scale(1)"><rect x="-9.7" y="-22.4" width="19.4" height="44.8" fill="#fff" stroke="#1a1a1a" stroke-width="1.65"/><g fill="#fff" stroke="#1a1a1a" stroke-width="2.2"><circle cx="-6" cy="-14.7" r="4.4"/><circle cx="-10.8" cy="-15.1" r="2.5"/><circle cx="6.2" cy="-14.9" r="4.4"/><circle cx="11" cy="-15.3" r="2.5"/><circle cx="-6.7" cy="-0.2" r="4.4"/><circle cx="-11.5" cy="-0.6" r="2.5"/><circle cx="6.7" cy="-0.4" r="4.4"/><circle cx="11.5" cy="-0.8" r="2.5"/><circle cx="-6.6" cy="14.4" r="4.4"/><circle cx="-11.4" cy="14" r="2.5"/><circle cx="5.8" cy="14.6" r="4.4"/><circle cx="10.6" cy="14.2" r="2.5"/></g><g fill="#fff"><circle cx="-6" cy="-14.7" r="4.4"/><circle cx="-10.8" cy="-15.1" r="2.5"/><circle cx="6.2" cy="-14.9" r="4.4"/><circle cx="11" cy="-15.3" r="2.5"/><circle cx="-6.7" cy="-0.2" r="4.4"/><circle cx="-11.5" cy="-0.6" r="2.5"/><circle cx="6.7" cy="-0.4" r="4.4"/><circle cx="11.5" cy="-0.8" r="2.5"/><circle cx="-6.6" cy="14.4" r="4.4"/><circle cx="-11.4" cy="14" r="2.5"/><circle cx="5.8" cy="14.6" r="4.4"/><circle cx="10.6" cy="14.2" r="2.5"/></g></g>
<g fill="none" stroke="#1a1a1a" stroke-width="2.1" stroke-linecap="round" stroke-linejoin="round"><path d="M481.9,257.5 C467,264 451,276 445,299"/><path d="M443.1,293 L445,299.4 L450,294.4"/><path d="M486.9,266.2 C474,278 465,295 464.4,318"/><path d="M461.2,311.2 L464.4,318.1 L468.1,311.2"/></g>
<g transform="translate(491.8,266.3)" fill="none" stroke="#1a1a1a" stroke-width="1.75" stroke-linecap="round" stroke-linejoin="round"><path d="M0.3,-0.3 L8.2,7.4 M7.7,-0.6 L0,5.9"/><path d="M16.2,3.3 C14.2,2.2 14.6,-2 17.6,-3.6 C20.5,-4.9 24.1,-3.4 23.4,0 C22.8,3 15.7,8.6 12.8,11.2 L23,11.4"/></g>
<g fill="none" stroke="#1a1a1a" stroke-width="1.9" stroke-linecap="round" stroke-linejoin="round"><path d="M405,381 Q418,376 432.7,376"/><path d="M425,372.2 L432.8,376 L424.4,378.9"/><path d="M470.6,374.5 Q456,372 442.6,374.9"/><path d="M448.1,369.7 L442.5,374.9 L451.2,376.8"/></g>
<g fill="#fff" stroke="#1a1a1a" stroke-width="3.2"><ellipse cx="323.8" cy="479.25" rx="22" ry="22"/><ellipse cx="372.3" cy="495.9" rx="26.3" ry="27.3"/><ellipse cx="282.5" cy="475.6" rx="21.8" ry="23.4"/><ellipse cx="253" cy="511.3" rx="24" ry="27.3"/><ellipse cx="295" cy="524.6" rx="22.5" ry="22.5"/><ellipse cx="337" cy="524.7" rx="22" ry="22"/></g><g fill="#fff"><ellipse cx="323.8" cy="479.25" rx="22" ry="22"/><ellipse cx="372.3" cy="495.9" rx="26.3" ry="27.3"/><ellipse cx="282.5" cy="475.6" rx="21.8" ry="23.4"/><ellipse cx="253" cy="511.3" rx="24" ry="27.3"/><ellipse cx="295" cy="524.6" rx="22.5" ry="22.5"/><ellipse cx="337" cy="524.7" rx="22" ry="22"/></g><g fill="#fff" stroke="#2a2a2a" stroke-width="0.9"><ellipse cx="323.8" cy="479.25" rx="22" ry="22"/><ellipse cx="372.3" cy="495.9" rx="26.3" ry="27.3"/><ellipse cx="282.5" cy="475.6" rx="21.8" ry="23.4"/><ellipse cx="253" cy="511.3" rx="24" ry="27.3"/><ellipse cx="295" cy="524.6" rx="22.5" ry="22.5"/><ellipse cx="337" cy="524.7" rx="22" ry="22"/></g>
<path d="M280.4,526.6 L287.2,583.8 L291.6,583.8 L284.8,526.6" fill="#fff" stroke="#1a1a1a" stroke-width="1.3" stroke-linejoin="round"/>
<ellipse cx="294.8" cy="503" rx="27.8" ry="30" fill="#fff" stroke="#3a3a3a" stroke-width="1.05"/>
<path d="M350.9,528 L348.2,589.3 L352.6,589.3 L355.3,528" fill="#fff" stroke="#1a1a1a" stroke-width="1.3" stroke-linejoin="round"/>
<ellipse cx="349.5" cy="500" rx="28" ry="31" fill="#fff" stroke="#3a3a3a" stroke-width="1.05"/>
<g stroke="#1a1a1a" stroke-width="2.2" stroke-linecap="round"><path d="M261.9,428.2 L265.3,434.3"/><path d="M324.1,420.8 L321.4,426.5"/><path d="M388.6,440.2 L384.4,444.1"/><path d="M227.6,457.4 L234.2,462"/><path d="M415.8,510.1 L421.4,510.1"/><path d="M391.6,545.3 L396.4,550.5"/><path d="M230.2,564.8 L236,561.2"/><path d="M317.4,582.6 L317.4,588.8"/></g>
</svg></body></html>
